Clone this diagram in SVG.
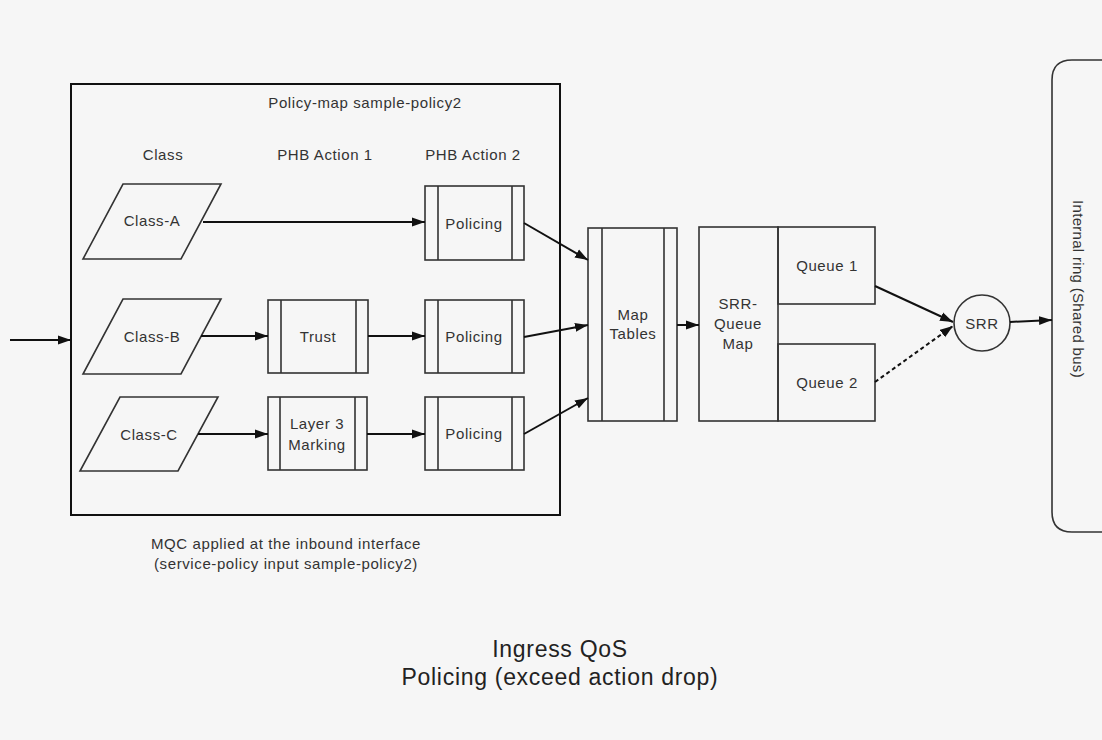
<svg xmlns="http://www.w3.org/2000/svg" width="1102" height="740" viewBox="0 0 1102 740">
<style>
text{font-family:"Liberation Sans",Arial,sans-serif;font-size:15px;letter-spacing:0.6px;fill:#333;text-anchor:middle}
.big{font-size:23px;letter-spacing:0.7px;fill:#222}
.rot{letter-spacing:0.3px}
.box{fill:none;stroke:#333;stroke-width:1.6}
.frame{fill:none;stroke:#111;stroke-width:2}
.ln{fill:none;stroke:#111;stroke-width:2}
.dash{stroke-dasharray:4,3}
</style>
<defs>
<marker id="ah" markerUnits="userSpaceOnUse" markerWidth="14" markerHeight="10" refX="13" refY="5" orient="auto">
<path d="M0,0.5 L13,5 L0,9.5 z" fill="#111"/>
</marker>
</defs>
<rect width="1102" height="740" fill="#f6f6f6"/>

<g id="policy-map">
<rect class="frame" x="71" y="84" width="489" height="431"/>
<text x="365" y="108">Policy-map sample-policy2</text>
<text x="163" y="160">Class</text>
<text x="325" y="160">PHB Action 1</text>
<text x="473" y="160">PHB Action 2</text>
</g>

<g id="class-a">
<polygon class="box" points="123,184 221,184 181,259 83,259"/>
<text x="152" y="226">Class-A</text>
</g>
<g id="class-b">
<polygon class="box" points="123,299 221,299 181,374 83,374"/>
<text x="152" y="342">Class-B</text>
</g>
<g id="class-c">
<polygon class="box" points="120,397 218,397 178,471 80,471"/>
<text x="149" y="440">Class-C</text>
</g>

<g id="trust">
<rect class="box" x="268" y="300" width="100" height="73"/>
<line class="box" x1="281" y1="300" x2="281" y2="373"/>
<line class="box" x1="356" y1="300" x2="356" y2="373"/>
<text x="318" y="342">Trust</text>
</g>
<g id="layer3">
<rect class="box" x="268" y="397" width="99" height="73"/>
<line class="box" x1="280" y1="397" x2="280" y2="470"/>
<line class="box" x1="355" y1="397" x2="355" y2="470"/>
<text x="317" y="428.5">Layer 3</text>
<text x="317" y="449.5">Marking</text>
</g>

<g id="policing-a">
<rect class="box" x="425" y="186" width="99" height="74"/>
<line class="box" x1="438" y1="186" x2="438" y2="260"/>
<line class="box" x1="512" y1="186" x2="512" y2="260"/>
<text x="474" y="228.5">Policing</text>
</g>
<g id="policing-b">
<rect class="box" x="425" y="300" width="99" height="73"/>
<line class="box" x1="438" y1="300" x2="438" y2="373"/>
<line class="box" x1="512" y1="300" x2="512" y2="373"/>
<text x="474" y="342">Policing</text>
</g>
<g id="policing-c">
<rect class="box" x="425" y="397" width="99" height="73"/>
<line class="box" x1="438" y1="397" x2="438" y2="470"/>
<line class="box" x1="512" y1="397" x2="512" y2="470"/>
<text x="474" y="439">Policing</text>
</g>

<g id="map-tables">
<rect class="box" x="588" y="228" width="89" height="193"/>
<line class="box" x1="602" y1="228" x2="602" y2="421"/>
<line class="box" x1="664" y1="228" x2="664" y2="421"/>
<text x="633" y="320">Map</text>
<text x="633" y="339">Tables</text>
</g>

<g id="srr-queue-map">
<rect class="box" x="699" y="227" width="79" height="194"/>
<text x="738" y="309">SRR-</text>
<text x="738" y="329">Queue</text>
<text x="738" y="349">Map</text>
</g>
<g id="queue-1">
<rect class="box" x="778" y="227" width="97" height="77"/>
<text x="827" y="271">Queue 1</text>
</g>
<g id="queue-2">
<rect class="box" x="778" y="344" width="97" height="77"/>
<text x="827" y="388">Queue 2</text>
</g>

<g id="srr">
<circle class="box" cx="982" cy="323" r="28"/>
<text x="982" y="328.5">SRR</text>
</g>

<g id="internal-ring">
<path class="box" d="M1110,60 L1072,60 Q1052,60 1052,80 L1052,512 Q1052,532 1072,532 L1110,532"/>
<text class="rot" x="0" y="0" transform="translate(1073,289) rotate(90)">Internal ring (Shared bus)</text>
</g>

<g id="connectors">
<line class="ln" x1="10" y1="340" x2="71" y2="340" marker-end="url(#ah)"/>
<line class="ln" x1="203" y1="222" x2="425" y2="222" marker-end="url(#ah)"/>
<line class="ln" x1="201" y1="336" x2="268" y2="336" marker-end="url(#ah)"/>
<line class="ln" x1="368" y1="336" x2="425" y2="336" marker-end="url(#ah)"/>
<line class="ln" x1="198" y1="434" x2="268" y2="434" marker-end="url(#ah)"/>
<line class="ln" x1="367" y1="434" x2="425" y2="434" marker-end="url(#ah)"/>
<line class="ln" x1="524" y1="223" x2="588" y2="260" marker-end="url(#ah)"/>
<line class="ln" x1="524" y1="337" x2="588" y2="325" marker-end="url(#ah)"/>
<line class="ln" x1="524" y1="434" x2="588" y2="398" marker-end="url(#ah)"/>
<line class="ln" x1="677" y1="325" x2="699" y2="325" marker-end="url(#ah)"/>
<line class="ln" x1="875" y1="286" x2="953" y2="322" marker-end="url(#ah)"/>
<line class="ln dash" x1="875" y1="382" x2="953" y2="326" marker-end="url(#ah)"/>
<line class="ln" x1="1010" y1="322" x2="1052" y2="320" marker-end="url(#ah)"/>
</g>

<g id="captions">
<text x="286" y="549">MQC applied at the inbound interface</text>
<text x="286" y="569">(service-policy input sample-policy2)</text>
<text class="big" x="560" y="657">Ingress QoS</text>
<text class="big" x="560" y="685">Policing (exceed action drop)</text>
</g>
</svg>
